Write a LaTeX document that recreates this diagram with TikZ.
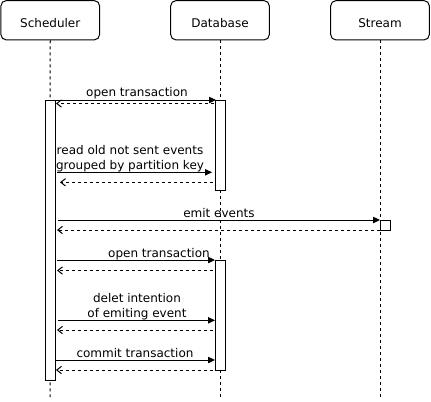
\documentclass[tikz,border=0pt]{standalone}
\usepackage{fontspec}
\setmainfont{DejaVu Sans}
\usetikzlibrary{arrows.meta}
\begin{document}
\begin{tikzpicture}[x=0.75pt,y=-0.75pt,
  every node/.style={font=\fontsize{9}{11.25}\selectfont},
  head/.style={draw, line width=0.75pt, rounded corners=4pt, minimum width=74pt, minimum height=29.5pt, inner sep=0pt, text height=10.5pt, text depth=0pt},
  actbox/.style={draw, fill=white, line width=0.75pt, minimum width=7.5pt, inner sep=0pt},
  lifeline/.style={line width=0.75pt, dash pattern=on 2.25pt off 2.25pt},
  msg/.style={line width=0.75pt, -{Triangle[length=5.25pt,width=4.8pt]}},
  ret/.style={line width=0.75pt, dash pattern=on 2.25pt off 2.25pt, -{Straight Barb[length=3.5pt,width=5.5pt]}},
  lbl/.style={anchor=base, inner sep=0pt, align=center}]
\useasboundingbox (0,0) rectangle (431,401);
% heads
\node[head] (sch) at (50.25,20.25) {Scheduler};
\node[head] (db) at (220,20.25) {Database};
\node[head] (st) at (380,20.25) {Stream};
% lifeline ends
\coordinate (schend) at (50,397);
\coordinate (dbend) at (220,397);
\coordinate (stend) at (380,397);
\draw[lifeline] (sch.south) -- (schend);
\draw[lifeline] (db.south) -- (dbend);
\draw[lifeline] (st.south) -- (stend);
% activations
\node[actbox, minimum height=210pt] (schact) at (50.3,240) {};
\node[actbox, minimum height=67.5pt] (dbact1) at (220,145) {};
\node[actbox, minimum height=82.5pt] (dbact2) at (220,315) {};
\node[actbox, minimum height=7.5pt] (stact) at (385,225) {};
% message coordinates
\coordinate (a1) at (55,100);   \coordinate (b1) at (216,100);
\coordinate (c1) at (214,103.5); \coordinate (d1) at (56,103.5);
\coordinate (a2) at (57,172.3); \coordinate (b2) at (212,172.3);
\coordinate (c2) at (213,182.3); \coordinate (d2) at (60,182.3);
\coordinate (a3) at (58,220);   \coordinate (b3) at (380,220);
\coordinate (c3) at (380,230);  \coordinate (d3) at (57,230);
\coordinate (a4) at (57,260);   \coordinate (b4) at (215,260);
\coordinate (c4) at (213,270.5); \coordinate (d4) at (57,270.5);
\coordinate (a5) at (58,320.3); \coordinate (b5) at (215,320.3);
\coordinate (c5) at (213,330);  \coordinate (d5) at (57,330);
\coordinate (a6) at (55,360);   \coordinate (b6) at (215,360);
\coordinate (c6) at (213,370);  \coordinate (d6) at (56,370);
% messages
\draw[msg] (a1) -- (b1);
\draw[ret] (c1) -- (d1);
\draw[msg] (a2) -- (b2);
\draw[ret] (c2) -- (d2);
\draw[msg] (a3) -- (b3);
\draw[ret] (c3) -- (d3);
\draw[msg] (a4) -- (b4);
\draw[ret] (c4) -- (d4);
\draw[msg] (a5) -- (b5);
\draw[ret] (c5) -- (d5);
\draw[msg] (a6) -- (b6);
\draw[ret] (c6) -- (d6);
% labels
\node[lbl] (l1) at (137,96.5) {open transaction};
\node[lbl] (l2) at (130,169) {read old not sent events\\grouped by partition key};
\node[lbl] (l3) at (219,217) {emit events};
\node[lbl] (l4) at (159,257) {open transaction};
\node[lbl] (l5) at (137,317.3) {delet intention\\of emiting event};
\node[lbl] (l6) at (135,357.3) {commit transaction};
\end{tikzpicture}
\end{document}
